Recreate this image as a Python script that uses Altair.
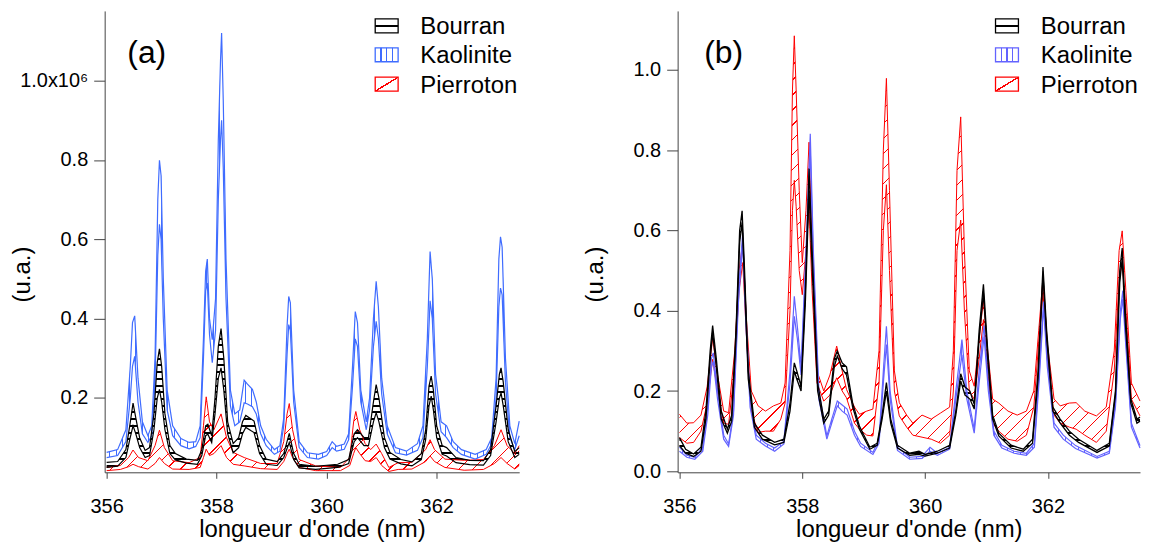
import altair as alt
import pandas as pd

FONT = "Liberation Sans"

# ---------------- panel (a) : values in units of 1e6 ----------------
a_kao_x = [356.00, 356.20, 356.35, 356.43, 356.47, 356.51, 356.57, 356.65, 356.75, 356.82,
           356.88, 356.93, 356.96, 356.99, 357.03, 357.10, 357.20, 357.35, 357.50, 357.62,
           357.70, 357.76, 357.80, 357.83, 357.87, 357.92, 357.98, 358.03, 358.07, 358.09,
           358.12, 358.17, 358.25, 358.33, 358.42, 358.50, 358.56, 358.65, 358.72, 358.80,
           358.90, 359.05, 359.15, 359.22, 359.28, 359.31, 359.34, 359.40, 359.50, 359.65,
           359.85, 360.00, 360.10, 360.18, 360.32, 360.40, 360.47, 360.52, 360.56, 360.62,
           360.72, 360.78, 360.85, 360.90, 360.94, 361.00, 361.10, 361.25, 361.45, 361.65,
           361.75, 361.83, 361.88, 361.92, 361.98, 362.08, 362.18, 362.30, 362.45, 362.70,
           362.90, 363.00, 363.08, 363.13, 363.16, 363.19, 363.25, 363.33, 363.42, 363.50]
a_kao_hi = [0.063, 0.070, 0.120, 0.280, 0.390, 0.407, 0.250, 0.140, 0.105, 0.130,
            0.300, 0.700, 0.799, 0.760, 0.500, 0.220, 0.130, 0.098, 0.088, 0.090,
            0.130, 0.350, 0.520, 0.550, 0.400, 0.347, 0.450, 0.850, 1.050, 1.120,
            0.950, 0.550, 0.220, 0.160, 0.170, 0.245, 0.235, 0.222, 0.190, 0.130,
            0.096, 0.070, 0.080, 0.150, 0.380, 0.456, 0.440, 0.220, 0.090, 0.062,
            0.058, 0.065, 0.090, 0.078, 0.084, 0.110, 0.280, 0.418, 0.390, 0.220,
            0.140, 0.200, 0.400, 0.494, 0.430, 0.250, 0.130, 0.075, 0.066, 0.085,
            0.130, 0.350, 0.569, 0.500, 0.260, 0.140, 0.130, 0.090, 0.070, 0.058,
            0.070, 0.100, 0.250, 0.550, 0.606, 0.580, 0.300, 0.130, 0.085, 0.142]
a_kao_lo = [0.050, 0.055, 0.090, 0.200, 0.280, 0.305, 0.190, 0.110, 0.088, 0.105,
            0.240, 0.560, 0.638, 0.600, 0.400, 0.170, 0.105, 0.080, 0.072, 0.078,
            0.100, 0.300, 0.470, 0.490, 0.360, 0.289, 0.370, 0.700, 0.850, 0.900,
            0.780, 0.450, 0.180, 0.130, 0.140, 0.188, 0.185, 0.178, 0.160, 0.110,
            0.080, 0.058, 0.066, 0.130, 0.310, 0.385, 0.370, 0.190, 0.075, 0.050,
            0.046, 0.055, 0.075, 0.066, 0.071, 0.095, 0.230, 0.349, 0.330, 0.190,
            0.120, 0.170, 0.330, 0.393, 0.350, 0.210, 0.110, 0.062, 0.056, 0.068,
            0.100, 0.280, 0.445, 0.400, 0.210, 0.115, 0.100, 0.075, 0.058, 0.046,
            0.058, 0.085, 0.200, 0.430, 0.477, 0.460, 0.240, 0.100, 0.070, 0.105]

a_bou_x = [356.00, 356.20, 356.35, 356.42, 356.48, 356.53, 356.60, 356.70, 356.78, 356.86,
           356.92, 356.96, 357.00, 357.06, 357.15, 357.25, 357.45, 357.65, 357.73, 357.80,
           357.84, 357.91, 357.97, 358.03, 358.08, 358.13, 358.20, 358.30, 358.40, 358.47,
           358.53, 358.62, 358.68, 358.78, 358.90, 359.10, 359.22, 359.32, 359.40, 359.50,
           359.80, 360.20, 360.40, 360.50, 360.56, 360.68, 360.76, 360.85, 360.90, 360.95,
           361.05, 361.15, 361.35, 361.55, 361.72, 361.80, 361.86, 361.90, 361.94, 362.00,
           362.10, 362.18, 362.35, 362.60, 362.85, 362.98, 363.08, 363.14, 363.17, 363.21,
           363.30, 363.42, 363.50]
a_bou_hi = [0.038, 0.040, 0.070, 0.130, 0.187, 0.150, 0.100, 0.068, 0.075, 0.160,
            0.290, 0.324, 0.280, 0.160, 0.080, 0.060, 0.046, 0.043, 0.070, 0.130,
            0.134, 0.105, 0.200, 0.330, 0.375, 0.300, 0.140, 0.085, 0.100, 0.140,
            0.156, 0.148, 0.142, 0.080, 0.046, 0.040, 0.060, 0.111, 0.060, 0.033,
            0.028, 0.033, 0.045, 0.110, 0.120, 0.100, 0.100, 0.190, 0.234, 0.200,
            0.100, 0.063, 0.045, 0.039, 0.060, 0.120, 0.230, 0.255, 0.220, 0.130,
            0.080, 0.075, 0.050, 0.043, 0.042, 0.070, 0.180, 0.260, 0.276, 0.240,
            0.120, 0.065, 0.075]
a_bou_lo = [0.025, 0.028, 0.050, 0.095, 0.130, 0.110, 0.075, 0.050, 0.055, 0.120,
            0.200, 0.222, 0.190, 0.120, 0.060, 0.044, 0.036, 0.033, 0.055, 0.105,
            0.109, 0.088, 0.160, 0.250, 0.276, 0.220, 0.110, 0.062, 0.075, 0.110,
            0.126, 0.118, 0.113, 0.060, 0.033, 0.030, 0.050, 0.088, 0.045, 0.024,
            0.020, 0.025, 0.035, 0.090, 0.100, 0.080, 0.080, 0.140, 0.163, 0.140,
            0.075, 0.046, 0.034, 0.029, 0.045, 0.095, 0.180, 0.205, 0.170, 0.100,
            0.058, 0.054, 0.037, 0.032, 0.031, 0.055, 0.140, 0.200, 0.213, 0.180,
            0.090, 0.050, 0.058]

a_pie_x = [356.00, 356.25, 356.40, 356.48, 356.58, 356.75, 356.88, 356.96, 357.05, 357.20,
           357.50, 357.70, 357.76, 357.81, 357.87, 357.95, 358.08, 358.18, 358.30, 358.50,
           358.80, 359.10, 359.22, 359.28, 359.32, 359.38, 359.50, 359.80, 360.25, 360.42,
           360.49, 360.53, 360.60, 360.70, 360.80, 360.90, 361.00, 361.13, 361.30, 361.55,
           361.80, 361.88, 361.96, 362.15, 362.50, 362.85, 363.05, 363.17, 363.28, 363.42,
           363.50]
a_pie_hi = [0.025, 0.030, 0.050, 0.069, 0.050, 0.042, 0.080, 0.119, 0.075, 0.042,
            0.037, 0.050, 0.130, 0.203, 0.140, 0.120, 0.160, 0.100, 0.063, 0.050,
            0.035, 0.035, 0.090, 0.160, 0.186, 0.120, 0.045, 0.029, 0.025, 0.050,
            0.140, 0.166, 0.120, 0.085, 0.070, 0.084, 0.060, 0.025, 0.037, 0.038,
            0.070, 0.095, 0.070, 0.046, 0.043, 0.045, 0.080, 0.120, 0.080, 0.060,
            0.080]
a_pie_lo = [0.017, 0.020, 0.027, 0.033, 0.027, 0.021, 0.035, 0.050, 0.035, 0.021,
            0.020, 0.025, 0.050, 0.071, 0.055, 0.060, 0.080, 0.050, 0.033, 0.029,
            0.022, 0.020, 0.040, 0.060, 0.071, 0.050, 0.025, 0.017, 0.017, 0.030,
            0.060, 0.075, 0.060, 0.042, 0.040, 0.050, 0.030, 0.015, 0.020, 0.021,
            0.040, 0.054, 0.040, 0.025, 0.018, 0.020, 0.035, 0.050, 0.035, 0.021,
            0.030]

# ---------------- panel (b) ----------------
b_bou_x = [356.00, 356.10, 356.23, 356.35, 356.43, 356.50, 356.54, 356.60, 356.68, 356.78,
           356.85, 356.92, 356.98, 357.02, 357.06, 357.12, 357.22, 357.35, 357.55, 357.70,
           357.80, 357.87, 357.91, 357.98, 358.05, 358.11, 358.16, 358.25, 358.35, 358.43,
           358.52, 358.57, 358.65, 358.72, 358.82, 358.93, 359.10, 359.22, 359.30, 359.37,
           359.44, 359.55, 359.75, 359.90, 360.00, 360.20, 360.40, 360.50, 360.58, 360.65,
           360.73, 360.80, 360.88, 360.95, 361.02, 361.10, 361.20, 361.40, 361.60, 361.75,
           361.84, 361.92, 361.98, 362.08, 362.20, 362.35, 362.50, 362.80, 363.00, 363.10,
           363.17, 363.21, 363.26, 363.35, 363.45, 363.50]
b_bou_hi = [0.084, 0.055, 0.043, 0.060, 0.150, 0.300, 0.363, 0.280, 0.150, 0.105,
            0.140, 0.350, 0.600, 0.649, 0.500, 0.250, 0.120, 0.090, 0.072, 0.080,
            0.170, 0.270, 0.250, 0.212, 0.450, 0.754, 0.550, 0.220, 0.130, 0.150,
            0.280, 0.300, 0.270, 0.260, 0.170, 0.113, 0.060, 0.070, 0.140, 0.221,
            0.130, 0.065, 0.045, 0.050, 0.042, 0.050, 0.065, 0.150, 0.243, 0.210,
            0.200, 0.167, 0.350, 0.466, 0.300, 0.140, 0.095, 0.065, 0.055, 0.080,
            0.250, 0.509, 0.350, 0.160, 0.130, 0.100, 0.080, 0.052, 0.070, 0.200,
            0.500, 0.556, 0.400, 0.180, 0.130, 0.135]
b_bou_lo = [0.064, 0.045, 0.037, 0.050, 0.130, 0.280, 0.345, 0.260, 0.130, 0.095,
            0.125, 0.330, 0.570, 0.620, 0.470, 0.230, 0.110, 0.080, 0.066, 0.072,
            0.150, 0.250, 0.230, 0.200, 0.420, 0.700, 0.510, 0.200, 0.120, 0.140,
            0.260, 0.287, 0.255, 0.240, 0.160, 0.105, 0.055, 0.065, 0.130, 0.200,
            0.120, 0.058, 0.040, 0.042, 0.038, 0.045, 0.058, 0.140, 0.225, 0.190,
            0.180, 0.155, 0.330, 0.444, 0.280, 0.130, 0.088, 0.058, 0.050, 0.070,
            0.230, 0.490, 0.330, 0.150, 0.120, 0.090, 0.072, 0.047, 0.063, 0.190,
            0.470, 0.530, 0.370, 0.170, 0.120, 0.125]

b_kao_x = [356.00, 356.12, 356.25, 356.38, 356.46, 356.52, 356.55, 356.62, 356.72, 356.80,
           356.88, 356.96, 357.03, 357.08, 357.15, 357.25, 357.40, 357.55, 357.70, 357.80,
           357.87, 357.92, 357.98, 358.06, 358.13, 358.18, 358.27, 358.40, 358.48, 358.57,
           358.65, 358.73, 358.85, 358.95, 359.15, 359.25, 359.32, 359.37, 359.43, 359.55,
           359.75, 359.95, 360.08, 360.20, 360.40, 360.50, 360.60, 360.68, 360.80, 360.88,
           360.96, 361.03, 361.12, 361.25, 361.45, 361.65, 361.78, 361.86, 361.93, 361.99,
           362.10, 362.25, 362.45, 362.80, 363.00, 363.10, 363.18, 363.22, 363.27, 363.36,
           363.50]
b_kao_hi = [0.060, 0.040, 0.035, 0.060, 0.160, 0.280, 0.295, 0.200, 0.090, 0.068,
            0.150, 0.450, 0.594, 0.400, 0.180, 0.090, 0.070, 0.058, 0.075, 0.250,
            0.436, 0.360, 0.262, 0.550, 0.841, 0.550, 0.200, 0.088, 0.130, 0.175,
            0.165, 0.155, 0.100, 0.070, 0.047, 0.080, 0.250, 0.361, 0.200, 0.060,
            0.035, 0.037, 0.060, 0.045, 0.060, 0.200, 0.328, 0.200, 0.105, 0.250,
            0.363, 0.220, 0.100, 0.065, 0.050, 0.045, 0.070, 0.250, 0.423, 0.280,
            0.120, 0.090, 0.064, 0.037, 0.050, 0.170, 0.400, 0.450, 0.330, 0.120,
            0.064]
b_kao_lo = [0.050, 0.035, 0.030, 0.050, 0.140, 0.260, 0.274, 0.180, 0.080, 0.062,
            0.140, 0.420, 0.570, 0.370, 0.160, 0.080, 0.063, 0.050, 0.068, 0.220,
            0.386, 0.330, 0.240, 0.520, 0.800, 0.520, 0.180, 0.080, 0.120, 0.163,
            0.150, 0.140, 0.090, 0.062, 0.042, 0.070, 0.220, 0.316, 0.180, 0.052,
            0.030, 0.032, 0.050, 0.040, 0.055, 0.180, 0.290, 0.180, 0.095, 0.220,
            0.336, 0.200, 0.090, 0.058, 0.045, 0.040, 0.060, 0.230, 0.410, 0.260,
            0.110, 0.080, 0.057, 0.033, 0.045, 0.160, 0.380, 0.430, 0.310, 0.110,
            0.058]

b_pie_x = [356.00, 356.12, 356.23, 356.35, 356.45, 356.54, 356.62, 356.72, 356.80, 356.90,
           356.97, 357.03, 357.09, 357.17, 357.28, 357.40, 357.53, 357.65, 357.72, 357.80,
           357.84, 357.87, 357.90, 357.95, 358.00, 358.06, 358.11, 358.16, 358.24, 358.35,
           358.45, 358.56, 358.65, 358.72, 358.85, 358.93, 359.05, 359.15, 359.25, 359.32,
           359.37, 359.42, 359.50, 359.58, 359.70, 359.80, 359.95, 360.10, 360.25, 360.40,
           360.46, 360.52, 360.58, 360.64, 360.72, 360.80, 360.88, 360.95, 361.02, 361.10,
           361.20, 361.35, 361.50, 361.65, 361.77, 361.85, 361.92, 361.99, 362.10, 362.20,
           362.35, 362.46, 362.60, 362.79, 362.95, 363.08, 363.16, 363.21, 363.27, 363.36,
           363.50]
b_pie_hi = [0.142, 0.120, 0.121, 0.140, 0.210, 0.332, 0.240, 0.150, 0.146, 0.300,
            0.500, 0.570, 0.380, 0.200, 0.163, 0.150, 0.163, 0.170, 0.220, 0.550,
            0.950, 1.085, 0.950, 0.700, 0.520, 0.650, 0.820, 0.550, 0.250, 0.200,
            0.240, 0.312, 0.250, 0.204, 0.160, 0.142, 0.150, 0.155, 0.300, 0.800,
            0.979, 0.700, 0.250, 0.171, 0.140, 0.120, 0.140, 0.130, 0.145, 0.160,
            0.300, 0.750, 0.883, 0.550, 0.250, 0.212, 0.330, 0.427, 0.300, 0.180,
            0.170, 0.150, 0.140, 0.150, 0.200, 0.350, 0.480, 0.320, 0.180, 0.163,
            0.170, 0.171, 0.150, 0.138, 0.160, 0.300, 0.550, 0.599, 0.450, 0.220,
            0.175]
b_pie_lo = [0.084, 0.070, 0.072, 0.100, 0.170, 0.279, 0.200, 0.120, 0.117, 0.260,
            0.450, 0.520, 0.340, 0.150, 0.097, 0.100, 0.100, 0.130, 0.170, 0.400,
            0.650, 0.725, 0.660, 0.500, 0.440, 0.550, 0.655, 0.450, 0.220, 0.175,
            0.190, 0.233, 0.200, 0.183, 0.120, 0.105, 0.090, 0.088, 0.220, 0.600,
            0.714, 0.500, 0.200, 0.138, 0.110, 0.090, 0.085, 0.080, 0.070, 0.090,
            0.200, 0.550, 0.626, 0.400, 0.200, 0.180, 0.280, 0.378, 0.250, 0.120,
            0.100, 0.080, 0.075, 0.090, 0.160, 0.320, 0.444, 0.280, 0.140, 0.120,
            0.110, 0.105, 0.090, 0.072, 0.100, 0.250, 0.480, 0.520, 0.400, 0.180,
            0.138]

names = ["Bourran", "Kaolinite", "Pierroton"]

# ---------------- layout / style ----------------
A_W, B_W, H = 416, 464, 463
A_XDOM = [355.964, 363.5]
B_XDOM = [355.97, 363.5]
A_YDOM = [0.0128, 1.1754]
B_YDOM = [-0.0025, 1.147]
CLEAR = "rgba(255,255,255,0)"
EPS = 1e-5


def band(x, lo, hi):
    if not (len(x) == len(lo) == len(hi)):
        raise ValueError(f"length mismatch {len(x)} {len(lo)} {len(hi)}")
    return pd.DataFrame({"x": x, "lo": lo, "hi": hi})


def stops_at(centers, width, color):
    """Hard-edged stripes of the given width (in gradient units) at each centre."""
    st = [alt.GradientStop(offset=0, color=CLEAR)]
    for c in centers:
        a = max(EPS, c - width / 2)
        b = min(1.0 - 2 * EPS, c + width / 2)
        st += [alt.GradientStop(offset=round(a, 7), color=CLEAR),
               alt.GradientStop(offset=round(a + EPS, 7), color=color),
               alt.GradientStop(offset=round(b, 7), color=color),
               alt.GradientStop(offset=round(b + EPS, 7), color=CLEAR)]
    st.append(alt.GradientStop(offset=1, color=CLEAR))
    return st


def hatch(kind, W, Hh, period, lw, color):
    if kind == "h":
        x2, y2, L = 0, 1, Hh
    elif kind == "v":
        x2, y2, L = 1, 0, W
    else:
        bb = Hh / W
        k = (1 + bb) / (1 + bb * bb)
        x2, y2, L = k, k * bb, W + Hh
        lw = lw * 1.414
    n = max(1, round(L / period))
    centers = [(i + 0.5) / n for i in range(n)]
    width = lw / L
    return alt.LinearGradient(gradient="linear", stops=stops_at(centers, width, color),
                              x1=0, y1=0, x2=round(x2, 5), y2=round(y2, 5))


def panel(series, width, xdom, ydom, yvals, yexpr, yext, ytpad, letter, letter_x, box_x, text_x):
    ppx = width / (xdom[1] - xdom[0])
    ppy = H / (ydom[1] - ydom[0])

    def X():
        return alt.X("x:Q", scale=alt.Scale(domain=xdom, nice=False, zero=False),
                     axis=alt.Axis(title="longueur d'onde (nm)", values=[356, 358, 360, 362],
                                   format="d", tickSize=6, labelPadding=18, titlePadding=1,
                                   grid=False))

    def Y(field):
        return alt.Y(f"{field}:Q", scale=alt.Scale(domain=ydom, nice=False, zero=False),
                     axis=alt.Axis(title="(u.a.)", values=yvals, labelExpr=yexpr, tickSize=11,
                                   labelPadding=6, minExtent=yext, maxExtent=yext,
                                   titlePadding=ytpad, titleX=-(yext + ytpad), titleY=264,
                                   grid=False))

    areas, lines = [], []
    legend_colors = {}
    for (df, kind, color, period, lw, lwidth, name) in series:
        legend_colors[name] = (color, kind)
        W = (df["x"].max() - df["x"].min()) * ppx
        Hh = (df["hi"].max() - df["lo"].min()) * ppy
        g = hatch(kind, W, Hh, period, lw, color)
        areas.append(alt.Chart(df).mark_area(fill=g).encode(x=X(), y=Y("lo"), y2="hi:Q"))
        lines.append(alt.Chart(df).mark_line(color=color, strokeWidth=lwidth)
                     .encode(x=X(), y=Y("hi")))
        lines.append(alt.Chart(df).mark_line(color=color, strokeWidth=lwidth)
                     .encode(x=X(), y=Y("lo")))

    one = pd.DataFrame({"k": [0]})
    deco = []
    deco.append(alt.Chart(pd.DataFrame({"t": [letter]})).mark_text(
        align="left", baseline="alphabetic", fontSize=32, font=FONT, color="black")
        .encode(x=alt.value(letter_x), y=alt.value(52), text="t:N"))
    legend_rows = [("Bourran", 8, 22), ("Kaolinite", 37, 51), ("Pierroton", 66.5, 80.5)]
    for name, y0, y1 in legend_rows:
        color, kind = legend_colors[name]
        if kind == "h":
            g = alt.LinearGradient(gradient="linear", stops=stops_at([0.5], 0.14, color),
                                   x1=0, y1=0, x2=0, y2=1)
        elif kind == "v":
            g = alt.LinearGradient(gradient="linear", stops=stops_at([0.25, 0.5, 0.75], 0.05, color),
                                   x1=0, y1=0, x2=1, y2=0)
        else:
            g = alt.LinearGradient(gradient="linear", stops=stops_at([0.5], 0.06, color),
                                   x1=0, y1=0, x2=1, y2=1)
        deco.append(alt.Chart(one).mark_rect(fill=g, stroke=color, strokeWidth=1.3)
                    .encode(x=alt.value(box_x), x2=alt.value(box_x + 23),
                            y=alt.value(y0), y2=alt.value(y1)))
        deco.append(alt.Chart(pd.DataFrame({"t": [name]})).mark_text(
            align="left", baseline="alphabetic", fontSize=24, font=FONT, color="black")
            .encode(x=alt.value(text_x), y=alt.value(y1 + 1.5), text="t:N"))

    return alt.layer(*areas, *lines, *deco).properties(width=width, height=H)


A_BLUE = "#3f6cff"
B_BLUE = "#6363ff"

series_a = [
    (band(a_pie_x, a_pie_lo, a_pie_hi), "d", "#ff0000", 14, 1.0, 1.0, "Pierroton"),
    (band(a_kao_x, a_kao_lo, a_kao_hi), "v", A_BLUE, 6.5, 1.0, 1.2, "Kaolinite"),
    (band(a_bou_x, a_bou_lo, a_bou_hi), "h", "#000000", 6.7, 2.0, 1.2, "Bourran"),
]
series_b = [
    (band(b_pie_x, b_pie_lo, b_pie_hi), "d", "#ff0000", 15, 1.0, 1.0, "Pierroton"),
    (band(b_kao_x, b_kao_lo, b_kao_hi), "v", B_BLUE, 6.5, 1.0, 1.2, "Kaolinite"),
    (band(b_bou_x, b_bou_lo, b_bou_hi), "h", "#000000", 6.7, 2.0, 1.3, "Bourran"),
]

exprA = "datum.value > 0.95 ? '1.0x10\u2076' : format(datum.value, '.1f')"
exprB = "format(datum.value, '.1f')"

pA = panel(series_a, A_W, A_XDOM, A_YDOM, [0.2, 0.4, 0.6, 0.8, 1.0], exprA, 60, 10.5,
           "(a)", 22.7, 271.5, 316.7)
pB = panel(series_b, B_W, B_XDOM, B_YDOM, [0.0, 0.2, 0.4, 0.6, 0.8, 1.0], exprB, 50, 20.5,
           "(b)", 26.7, 319, 364.4)

chart = (
    alt.hconcat(pA, pB, spacing=61)
    .properties(padding={"left": 2, "top": 2, "right": 0, "bottom": 0})
    .configure_view(stroke=None)
    .configure_axis(labelFont=FONT, titleFont=FONT, labelFontSize=20, titleFontSize=24,
                    labelColor="black", titleColor="black", domainColor="#444",
                    tickColor="#444", titleFontWeight="normal")
)

chart.save("out.html", embed_options={"renderer": "svg", "actions": False})
